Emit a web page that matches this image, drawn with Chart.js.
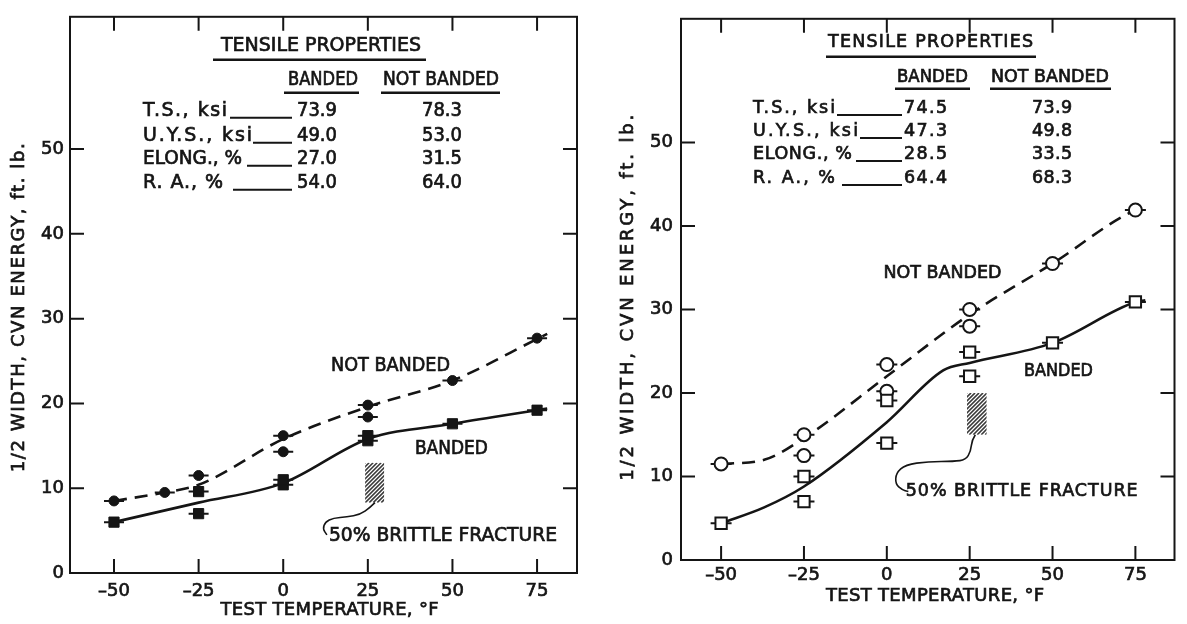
<!DOCTYPE html>
<html>
<head>
<meta charset="utf-8">
<script src="https://cdn.jsdelivr.net/npm/chart.js@4.4.1/dist/chart.umd.min.js"></script>
<style>
  html, body { margin: 0; padding: 0; background: #fff; }
  #wrap { position: relative; width: 1187px; height: 624px; }
  .panel { position: absolute; top: 0; height: 624px; }
  #left { left: 0; width: 600px; }
  #right { left: 600px; width: 587px; }
</style>
</head>
<body>
<div id="wrap">
  <div class="panel" id="left"><canvas id="chartA"></canvas></div>
  <div class="panel" id="right"><canvas id="chartB"></canvas></div>
</div>
<script>
// axis ticks: test temperature (°F) and 1/2-width CVN energy (ft-lb)
const tempTicks = [-50, -25, 0, 25, 50, 75];
const energyTicks = [0, 10, 20, 30, 40, 50];

// left plot - individual tests
const aBandedTemp = [-50, -25, -25, 0, 0, 25, 25, 50, 75];
const aBandedEnergy = [6.0, 7.0, 9.6, 10.4, 11.0, 15.6, 16.2, 17.6, 19.2];
const aNotBandedTemp = [-50, -35, -25, 0, 0, 25, 25, 50, 75];
const aNotBandedEnergy = [8.5, 9.5, 11.5, 14.3, 16.2, 18.4, 19.8, 22.7, 27.7];
// left plot - faired curves
const aBandedCurveTemp = [-50, -25, 0, 25, 50, 75, 78];
const aBandedCurveEnergy = [6.0, 8.3, 10.6, 15.8, 17.6, 19.2, 19.4];
const aNotBandedCurveTemp = [-50, -35, -25, 0, 25, 50, 75, 78];
const aNotBandedCurveEnergy = [8.5, 9.5, 10.4, 15.8, 19.6, 22.7, 27.6, 28.2];

// right plot - individual tests
const bBandedTemp = [-50, -25, -25, 0, 0, 25, 25, 50, 75];
const bBandedEnergy = [4.4, 7.0, 10.0, 14.0, 19.1, 22.0, 24.9, 26.0, 30.9];
const bNotBandedTemp = [-50, -25, -25, 0, 0, 25, 25, 50, 75];
const bNotBandedEnergy = [11.5, 12.5, 15.0, 20.2, 23.4, 28.0, 30.0, 35.5, 41.9];
// right plot - faired curves
const bBandedCurveTemp = [-50, -37, -25, 0, 17, 25, 50, 75, 78];
const bBandedCurveEnergy = [4.4, 6.3, 8.8, 16.5, 22.7, 23.6, 26.0, 30.9, 31.1];
const bNotBandedCurveTemp = [-50, -37, -25, 0, 25, 50, 75, 78];
const bNotBandedCurveEnergy = [11.5, 12.0, 14.6, 22.0, 29.4, 35.5, 41.9, 42.2];

// tensile properties tables
const propNames = ['T.S., ksi', 'U.Y.S., ksi', 'ELONG., %', 'R. A., %'];
const aPropsBanded = ['73.9', '49.0', '27.0', '54.0'];
const aPropsNotBanded = ['78.3', '53.0', '31.5', '64.0'];
const bPropsBanded = ['74.5', '47.3', '28.5', '64.4'];
const bPropsNotBanded = ['73.9', '49.8', '33.5', '68.3'];

const INK = '#151515';
const FONT = '"DejaVu Sans", sans-serif';

// draw a string starting at `left`, spread or squeezed to a given width
function fitText(ctx, text, left, cy, size, width) {
  ctx.save();
  ctx.font = size + 'px ' + FONT;
  ctx.textBaseline = 'middle';
  ctx.textAlign = 'left';
  ctx.letterSpacing = '0px';
  ctx.lineWidth = 0.7;
  ctx.strokeStyle = INK;
  const w = ctx.measureText(text).width;
  if (width > w && text.length > 1) {
    ctx.letterSpacing = ((width - w) / (text.length - 1)).toFixed(2) + 'px';
    ctx.fillText(text, left, cy);
    ctx.strokeText(text, left, cy);
  } else {
    ctx.translate(left, cy);
    ctx.scale(width / w, 1);
    ctx.fillText(text, 0, 0);
    ctx.strokeText(text, 0, 0);
  }
  ctx.restore();
}
function centerText(ctx, text, cx, cy, size, width) {
  fitText(ctx, text, cx - width / 2, cy, size, width);
}
function smoothPath(ctx, p) {
  ctx.beginPath();
  ctx.moveTo(p[0][0], p[0][1]);
  for (let i = 1; i < p.length - 1; i++) {
    const mx = (p[i][0] + p[i + 1][0]) / 2, my = (p[i][1] + p[i + 1][1]) / 2;
    ctx.quadraticCurveTo(p[i][0], p[i][1], mx, my);
  }
  const last = p[p.length - 1];
  ctx.lineTo(last[0], last[1]);
  ctx.stroke();
}

// frame, inward ticks, axis titles, table and notes
function figurePlugin(look, propsBanded, propsNotBanded) {
  return {
    id: 'figure',
    afterDraw(chart) {
      const ctx = chart.ctx, a = chart.chartArea;
      const xs = chart.scales.x, ys = chart.scales.y;
      const px = v => xs.getPixelForValue(v), py = v => ys.getPixelForValue(v);
      const t = look.table, fs = look.textSize;
      ctx.save();
      ctx.strokeStyle = INK;
      ctx.fillStyle = INK;
      ctx.lineCap = 'butt';

      ctx.lineWidth = 2;
      ctx.strokeRect(a.left, a.top, a.right - a.left, a.bottom - a.top);
      ctx.beginPath();
      tempTicks.forEach(v => {
        ctx.moveTo(px(v), a.bottom); ctx.lineTo(px(v), a.bottom - look.tickLen);
        ctx.moveTo(px(v), a.top); ctx.lineTo(px(v), a.top + look.tickLen);
      });
      energyTicks.forEach(v => {
        if (v === 0) return;
        ctx.moveTo(a.left, py(v)); ctx.lineTo(a.left + look.tickLen, py(v));
        ctx.moveTo(a.right, py(v)); ctx.lineTo(a.right - look.tickLen, py(v));
      });
      ctx.stroke();

      // axis titles
      centerText(ctx, 'TEST TEMPERATURE, °F', a.left + look.xTitle[0], a.bottom + look.xTitle[1], 18, look.xTitle[2]);
      ctx.save();
      ctx.translate(a.left + look.yTitle[0], a.top + look.yTitle[1]);
      ctx.rotate(-Math.PI / 2);
      centerText(ctx, '1/2 WIDTH, CVN ENERGY, ft. lb.', 0, 0, 18, look.yTitle[2]);
      ctx.restore();

      // tensile properties table
      const L = a.left, T = a.top;
      centerText(ctx, 'TENSILE PROPERTIES', L + t.title[0], T + t.title[1], fs, t.title[2]);
      centerText(ctx, 'BANDED', L + t.heads[0][0], T + t.heads[0][1], fs, t.heads[0][2]);
      centerText(ctx, 'NOT BANDED', L + t.heads[1][0], T + t.heads[1][1], fs, t.heads[1][2]);
      ctx.lineWidth = 2.5;
      ctx.beginPath();
      [t.rule].concat(t.headRules).forEach(r => {
        ctx.moveTo(L + r[0], T + r[2]); ctx.lineTo(L + r[1], T + r[2]);
      });
      ctx.stroke();
      ctx.lineWidth = 2;
      propNames.forEach((name, i) => {
        const cy = T + t.rowY[i];
        fitText(ctx, name, L + t.labelX, cy, fs, t.labelW[i]);
        ctx.beginPath();
        ctx.moveTo(L + t.leadX[i], cy + fs * 0.36);
        ctx.lineTo(L + t.leadEnd, cy + fs * 0.36);
        ctx.stroke();
        fitText(ctx, propsBanded[i], L + t.valX, cy, fs, t.valW);
        centerText(ctx, propsNotBanded[i], L + t.nbX, cy, fs, t.nbW);
      });

      // curve labels
      look.notes.forEach(n => centerText(ctx, n.text, px(n.x), py(n.y), fs, n.w));

      // hatched band of 50% brittle fracture and its leader
      const h = look.hatch;
      const x0 = px(h[0]), x1 = px(h[2]), y0 = py(h[1]), y1 = py(h[3]);
      ctx.save();
      ctx.beginPath();
      ctx.rect(x0, y0, x1 - x0, y1 - y0);
      ctx.clip();
      ctx.strokeStyle = '#3a3a3a';
      ctx.lineWidth = 1.6;
      ctx.beginPath();
      for (let s = x0 - (y1 - y0); s < x1 + 4; s += 4) {
        ctx.moveTo(s, y1); ctx.lineTo(s + (y1 - y0), y0);
      }
      ctx.stroke();
      ctx.restore();
      ctx.lineWidth = 1.6;
      smoothPath(ctx, look.leader.map(p => [px(p[0]), py(p[1])]));
      ctx.restore();
    }
  };
}

function buildChart(canvasId, d, look, propsBanded, propsNotBanded) {
  const pts = (xs, ys) => xs.map((x, i) => ({ x: x, y: ys[i] }));
  const marker = (data, style, r) => ({
    data: data, showLine: false, pointStyle: style, pointRadius: r,
    pointBackgroundColor: look.filled ? INK : '#fff', pointBorderColor: INK,
    pointBorderWidth: look.filled ? 1 : 2
  });
  const bar = data => ({
    data: data, showLine: false, pointStyle: 'line', pointRadius: look.barR,
    pointBorderColor: INK, pointBorderWidth: 2
  });
  const curve = (data, dash) => ({
    data: data, borderColor: INK, borderWidth: 2.6, borderDash: dash,
    pointRadius: 0, cubicInterpolationMode: 'monotone', fill: false
  });
  const banded = pts(d.bandedTemp, d.bandedEnergy);
  const notBanded = pts(d.notTemp, d.notEnergy);
  const tickFont = { family: FONT, size: 18 };

  return new Chart(document.getElementById(canvasId), {
    type: 'line',
    data: {
      datasets: [
        marker(banded, 'rect', look.rectR),
        marker(notBanded, 'circle', look.circR),
        bar(banded),
        bar(notBanded),
        curve(pts(d.bandedCurveTemp, d.bandedCurveEnergy), []),
        curve(pts(d.notCurveTemp, d.notCurveEnergy), [13, 8])
      ]
    },
    options: {
      responsive: true,
      maintainAspectRatio: false,
      animation: false,
      events: [],
      layout: { padding: look.pad },
      plugins: { legend: { display: false }, tooltip: { enabled: false } },
      scales: {
        x: {
          type: 'linear', min: look.xMin, max: look.xMax,
          grid: { display: false, drawTicks: false },
          border: { display: false },
          afterBuildTicks: s => { s.ticks = tempTicks.map(v => ({ value: v })); },
          afterFit: s => { s.height = look.xHeight; },
          ticks: {
            padding: look.xTickPad, color: INK, autoSkip: false, maxRotation: 0,
            font: tickFont, textStrokeColor: INK, textStrokeWidth: 0.7,
            callback: v => (v < 0 ? '\u2013' + Math.abs(v) : String(v))
          }
        },
        y: {
          type: 'linear', min: 0, max: look.yMax,
          grid: { display: false, drawTicks: false },
          border: { display: false },
          afterBuildTicks: s => { s.ticks = energyTicks.map(v => ({ value: v })); },
          afterFit: s => { s.width = look.yWidth; },
          ticks: {
            padding: look.yTickPad, color: INK, autoSkip: false,
            font: tickFont, textStrokeColor: INK, textStrokeWidth: 0.7
          }
        }
      }
    },
    plugins: [figurePlugin(look, propsBanded, propsNotBanded)]
  });
}

buildChart('chartA', {
  bandedTemp: aBandedTemp, bandedEnergy: aBandedEnergy,
  notTemp: aNotBandedTemp, notEnergy: aNotBandedEnergy,
  bandedCurveTemp: aBandedCurveTemp, bandedCurveEnergy: aBandedCurveEnergy,
  notCurveTemp: aNotBandedCurveTemp, notCurveEnergy: aNotBandedCurveEnergy
}, {
  xMin: -63, xMax: 86.8, yMax: 65.6,
  pad: { top: 14, right: 23, left: 0, bottom: 0 }, yWidth: 70, xHeight: 51,
  xTickPad: 8, yTickPad: 6, tickLen: 14, textSize: 19,
  filled: true, rectR: 7.2, circR: 5, barR: 10,
  xTitle: [259.5, 37, 218], yTitle: [-51, 291, 329],
  table: {
    title: [251, 29, 200], rule: [143, 356, 43],
    heads: [[253, 63, 70], [371, 63, 116]], headRules: [[214, 289, 76], [311, 430, 76]],
    rowY: [94, 119, 142, 166], labelX: 73, labelW: [84, 109, 99, 80],
    leadX: [160, 183, 177, 163], leadEnd: 222, valX: 227, valW: 40, nbX: 372, nbW: 40
  },
  notes: [
    { text: 'NOT BANDED', x: 31.7, y: 24.4, w: 119 },
    { text: 'BANDED', x: 49.7, y: 14.6, w: 73 },
    { text: '50% BRITTLE FRACTURE', x: 47.2, y: 4.4, w: 228 }
  ],
  hatch: [24.2, 13.0, 29.8, 8.3],
  leader: [[27.1, 8.3], [25.6, 7.7], [22.7, 6.9], [18.8, 6.6], [14.8, 6.5], [12.4, 6.0], [11.7, 5.2], [12.9, 4.5]]
}, aPropsBanded, aPropsNotBanded);

buildChart('chartB', {
  bandedTemp: bBandedTemp, bandedEnergy: bBandedEnergy,
  notTemp: bNotBandedTemp, notEnergy: bNotBandedEnergy,
  bandedCurveTemp: bBandedCurveTemp, bandedCurveEnergy: bBandedCurveEnergy,
  notCurveTemp: bNotBandedCurveTemp, notCurveEnergy: bNotBandedCurveEnergy
}, {
  xMin: -62.1, xMax: 86.8, yMax: 64.8,
  pad: { top: 12, right: 2, left: 0, bottom: 0 }, yWidth: 81, xHeight: 64,
  xTickPad: 5, yTickPad: 8, tickLen: 14, textSize: 17.5,
  filled: false, rectR: 8, circR: 6.5, barR: 10.5,
  xTitle: [254, 36, 218], yTitle: [-53, 279, 366],
  table: {
    title: [249.5, 24, 205], rule: [145, 355, 38],
    heads: [[251.5, 59, 71], [369, 59, 118]], headRules: [[214, 289, 70], [309, 430, 70]],
    rowY: [90, 113, 136, 160], labelX: 72, labelW: [82, 105, 99, 82],
    leadX: [156, 179, 175, 161], leadEnd: 221, valX: 223, valW: 43, nbX: 371, nbW: 40
  },
  notes: [
    { text: 'NOT BANDED', x: 16.8, y: 34.3, w: 118 },
    { text: 'BANDED', x: 51.8, y: 22.6, w: 69 },
    { text: '50% BRITTLE FRACTURE', x: 40.7, y: 8.2, w: 232 }
  ],
  hatch: [24.2, 20.0, 30.1, 15.0],
  leader: [[26.7, 15.0], [25.7, 14.4], [25.3, 13.0], [23.8, 12.0], [20.3, 11.8], [12.4, 11.8], [5.6, 11.4], [2.8, 10.4], [2.6, 9.1], [4.6, 8.4], [6.5, 8.2]]
}, bPropsBanded, bPropsNotBanded);
</script>
</body>
</html>
